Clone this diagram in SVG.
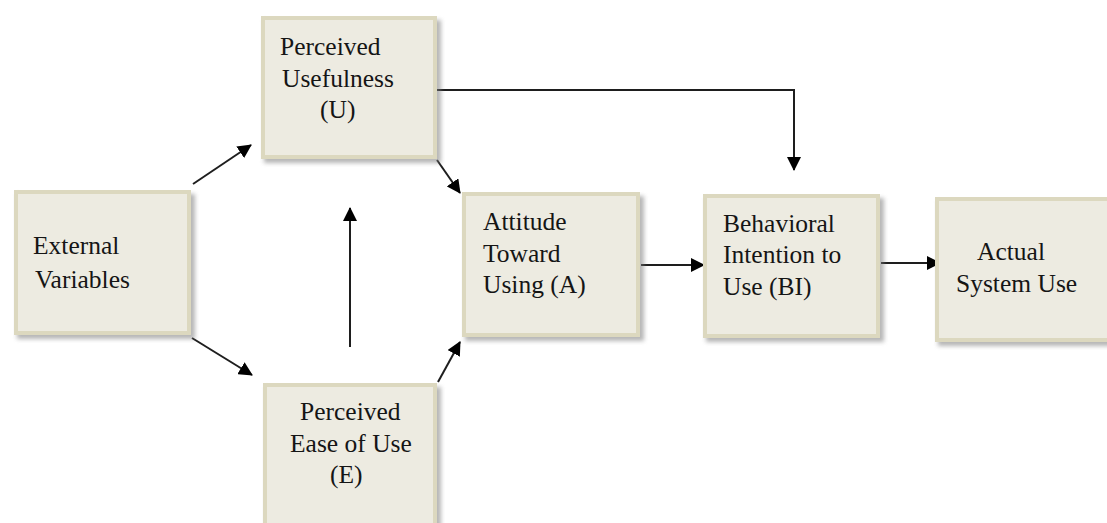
<svg xmlns="http://www.w3.org/2000/svg" width="1107" height="523" viewBox="0 0 1107 523">
<style>
.frame{fill:#DCD8BF;}
.inner{fill:#EDEBE1;}
.shadow{fill:#7a7a7a;opacity:0.55;filter:url(#blur);}
.t{font-family:"Liberation Serif","DejaVu Serif",serif;font-size:25.5px;fill:#151515;}
.c{stroke:#1e1e1e;stroke-width:2;fill:none;}
</style>
<defs>
<filter id="blur" x="-10%" y="-10%" width="130%" height="130%"><feGaussianBlur stdDeviation="2"/></filter>
<marker id="ah" viewBox="0 0 14 14" refX="13" refY="7" markerWidth="14" markerHeight="14" markerUnits="userSpaceOnUse" orient="auto">
<path d="M0,0 L14,7 L0,14 Z" fill="#000"/>
</marker>
</defs>
<rect width="1107" height="523" fill="#fff"/>
<g id="connectors">
<line class="c" x1="193" y1="184" x2="251" y2="145" marker-end="url(#ah)"/>
<line class="c" x1="192" y1="338" x2="252" y2="375" marker-end="url(#ah)"/>
<line class="c" x1="437" y1="160" x2="460" y2="193" marker-end="url(#ah)"/>
<line class="c" x1="438" y1="382" x2="460" y2="342" marker-end="url(#ah)"/>
<line class="c" x1="350" y1="347" x2="350" y2="208" marker-end="url(#ah)"/>
<polyline class="c" points="437,90 794,90 794,170" marker-end="url(#ah)"/>
<line class="c" x1="641" y1="265" x2="704" y2="265" marker-end="url(#ah)"/>
<line class="c" x1="881" y1="263" x2="940" y2="263" marker-end="url(#ah)"/>
</g>
<g id="pu">
<rect class="shadow" x="264" y="20" width="177" height="143"/>
<rect class="frame" x="261" y="16" width="176" height="143"/>
<rect class="inner" x="265" y="20" width="168" height="135"/>
<text class="t" x="280" y="55">Perceived</text>
<text class="t" x="282" y="87">Usefulness</text>
<text class="t" x="320" y="118">(U)</text>
</g>
<g id="ev">
<rect class="shadow" x="17" y="194" width="178" height="145"/>
<rect class="frame" x="14" y="190" width="177" height="145"/>
<rect class="inner" x="18" y="194" width="169" height="137"/>
<text class="t" x="33" y="254">External</text>
<text class="t" x="35" y="288">Variables</text>
</g>
<g id="att">
<rect class="shadow" x="465" y="196" width="179" height="145"/>
<rect class="frame" x="462" y="192" width="178" height="145"/>
<rect class="inner" x="466" y="196" width="170" height="137"/>
<text class="t" x="483" y="230">Attitude</text>
<text class="t" x="483" y="262">Toward</text>
<text class="t" x="483" y="293">Using (A)</text>
</g>
<g id="bi">
<rect class="shadow" x="706" y="198" width="178" height="144"/>
<rect class="frame" x="703" y="194" width="177" height="144"/>
<rect class="inner" x="707" y="198" width="169" height="136"/>
<text class="t" x="723" y="232">Behavioral</text>
<text class="t" x="723" y="263">Intention to</text>
<text class="t" x="723" y="295">Use (BI)</text>
</g>
<g id="asu">
<rect class="shadow" x="938" y="201" width="180" height="145"/>
<rect class="frame" x="935" y="197" width="180" height="145"/>
<rect class="inner" x="939" y="201" width="172" height="137"/>
<text class="t" x="977" y="260">Actual</text>
<text class="t" x="956" y="292">System Use</text>
</g>
<g id="peou">
<rect class="shadow" x="266" y="387" width="175" height="150"/>
<rect class="frame" x="263" y="383" width="174" height="150"/>
<rect class="inner" x="267" y="387" width="166" height="142"/>
<text class="t" x="300" y="420">Perceived</text>
<text class="t" x="290" y="452">Ease of Use</text>
<text class="t" x="330" y="483">(E)</text>
</g>
</svg>
